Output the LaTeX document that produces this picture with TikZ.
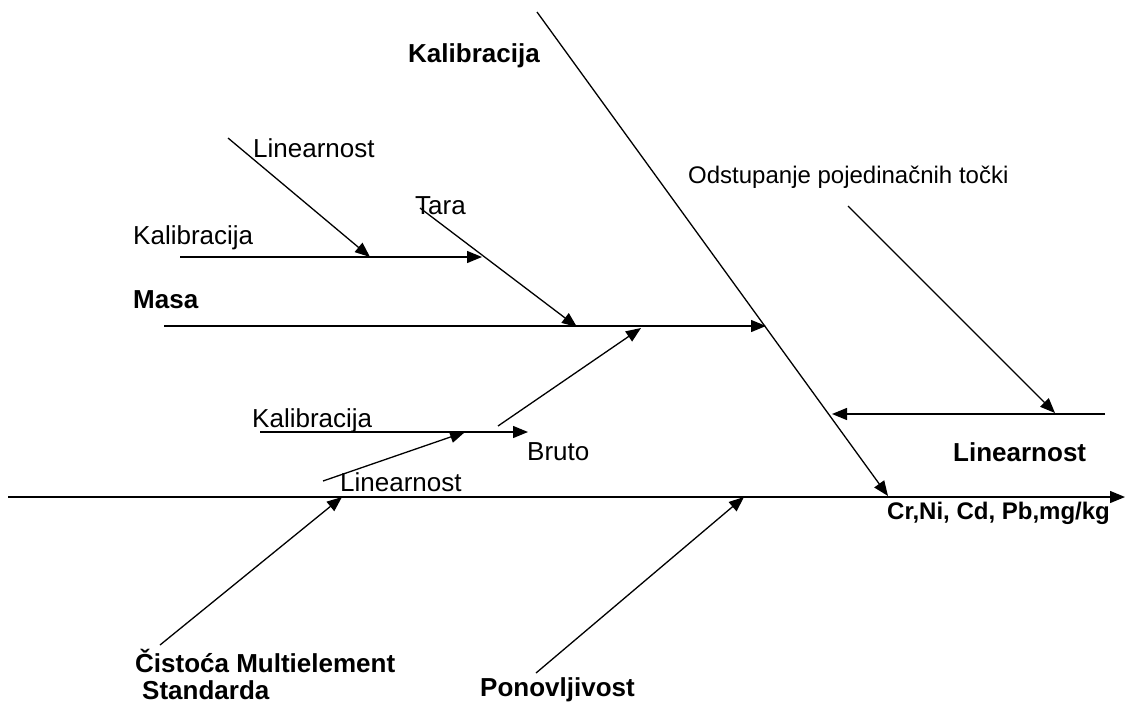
\documentclass[tikz,border=0pt]{standalone}
\usepackage{fontspec}
\setmainfont{Liberation Sans}
\usetikzlibrary{arrows.meta}
\tikzset{
    x=1pt, y=-1pt, % pixel grid of the figure, y downwards
    bone/.style={-{Triangle[length=15pt,width=12pt]}, line width=1.3pt}, % every arrow of the diagram
    cause/.style={inner sep=0pt, font=\fontsize{26}{30}\selectfont\bfseries}, % main causes
    factor/.style={inner sep=0pt, font=\fontsize{26}{30}\selectfont}, % sub causes
}
\begin{document}
\begin{tikzpicture}
    \useasboundingbox (0,0) rectangle (1126,704);
    % spine and main bones
    \coordinate (s0) at (8,497);
    \coordinate (s1) at (1125,497);
    \coordinate (k0) at (537,12);
    \coordinate (k1) at (888,496);
    \coordinate (m0) at (164,326);
    \coordinate (m1) at (766,326);
    \coordinate (l0) at (1105,414);
    \coordinate (l1) at (832,414);
    \coordinate (d0) at (848,206);
    \coordinate (d1) at (1055,413);
    \coordinate (c0) at (160,645);
    \coordinate (c1) at (342,497);
    \coordinate (p0) at (536,673);
    \coordinate (p1) at (744,497);
    % masa branches
    \coordinate (mk0) at (180,257);
    \coordinate (mk1) at (482,257);
    \coordinate (ml0) at (228,138);
    \coordinate (ml1) at (370,257);
    \coordinate (t0) at (420,208);
    \coordinate (t1) at (577,327);
    \coordinate (b0) at (260,432);
    \coordinate (b1) at (528,432);
    \coordinate (bl0) at (323,481);
    \coordinate (bl1) at (465,432);
    \coordinate (bd0) at (498,426);
    \coordinate (bd1) at (641,328);
    \draw[bone] (s0) -- (s1);
    \draw[bone] (k0) -- (k1);
    \draw[bone] (m0) -- (m1);
    \draw[bone] (l0) -- (l1);
    \draw[bone] (d0) -- (d1);
    \draw[bone] (c0) -- (c1);
    \draw[bone] (p0) -- (p1);
    \draw[bone] (mk0) -- (mk1);
    \draw[bone] (ml0) -- (ml1);
    \draw[bone] (t0) -- (t1);
    \draw[bone] (b0) -- (b1);
    \draw[bone] (bl0) -- (bl1);
    \draw[bone] (bd0) -- (bd1);
    % labels
    \node[cause, anchor=west] (kal) at (408,56) {Kalibracija};
    \node[cause, anchor=west] (masa) at (133,300) {Masa};
    \node[cause, anchor=west] (lin) at (953,452) {Linearnost};
    \node[cause, anchor=west, font=\fontsize{24}{28}\selectfont\bfseries] (res) at (887,513) {Cr,Ni, Cd, Pb,mg/kg};
    \node[cause, anchor=north west, align=left, font=\fontsize{26}{27}\selectfont\bfseries] (cist) at (135,649) {Čistoća Multielement\\ \hspace{0.27em}Standarda};
    \node[cause, anchor=west] (pon) at (480,690) {Ponovljivost};
    \node[factor, anchor=west, font=\fontsize{24}{28}\selectfont] (odst) at (688,177) {Odstupanje pojedinačnih točki};
    \node[factor, anchor=west] (mlin) at (253,148) {Linearnost};
    \node[factor, anchor=west] (tara) at (415,206) {Tara};
    \node[factor, anchor=west] (mkal) at (133,238) {Kalibracija};
    \node[factor, anchor=west] (bkal) at (252,421) {Kalibracija};
    \node[factor, anchor=west] (bruto) at (527,452) {Bruto};
    \node[factor, anchor=west] (blin) at (340,482) {Linearnost};
\end{tikzpicture}
\end{document}
